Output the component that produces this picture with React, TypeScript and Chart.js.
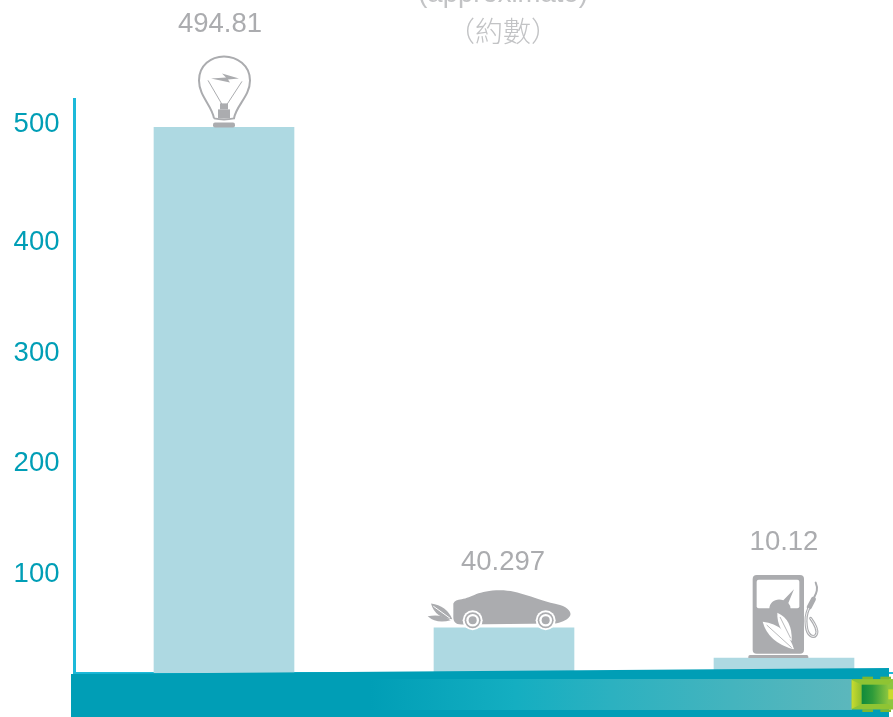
import React, { useEffect, useRef } from "react";
import { Chart, registerables } from "chart.js";

Chart.register(...registerables);

// ---- data ----
const categoryPositions = [1, 2, 3];
const barLabels = ["494.81", "40.297", "10.12"];
// the bars of the reference are not drawn to scale: these are their apparent heights on the axis
const barHeights = [494.81, 50.7, 24];
const yTickLabels = ["100", "200", "300", "400", "500"];
// the reference's printed ticks are unevenly spaced
const yTickValues = [98.2, 196.9, 294.5, 392.7, 497.5];
const titleLines = ["(approximate)", "（約數）"];

const GREY = "#ABACAF";
const TEAL = "#009EB6";
const AXIS = "#1CB9D9";
const BAR = "#AED9E2";
const FONT = '"Liberation Sans", Arial, sans-serif';

const labelOffsets = [
  { dx: -4, dy: -102.5 },
  { dx: -1, dy: -65.5 },
  { dx: 0, dy: -115.5 },
];

function drawBulb(c: CanvasRenderingContext2D) {
  c.strokeStyle = GREY;
  c.fillStyle = GREY;
  c.lineWidth = 2;
  c.beginPath();
  c.moveTo(-10, -9);
  c.bezierCurveTo(-12, -22, -25, -31, -25, -47);
  c.bezierCurveTo(-25, -62, -13, -71, 0, -71);
  c.bezierCurveTo(13, -71, 26, -62, 26, -47);
  c.bezierCurveTo(26, -31, 12, -22, 10, -9);
  c.quadraticCurveTo(0, -7, -10, -9);
  c.stroke();
  c.lineWidth = 1;
  c.beginPath();
  c.moveTo(-16, -47);
  c.lineTo(-2, -23);
  c.moveTo(18, -46);
  c.lineTo(3, -23);
  c.stroke();
  c.beginPath();
  c.moveTo(-13, -49);
  c.lineTo(2, -50);
  c.lineTo(-2, -54);
  c.lineTo(15, -49);
  c.lineTo(4, -48);
  c.lineTo(6, -45);
  c.closePath();
  c.fill();
  c.fillRect(-4, -24, 8, 6);
  c.fillRect(-6, -18, 12, 9);
  c.beginPath();
  c.roundRect(-11, -5, 22, 5, 2);
  c.fill();
}

function drawCar(c: CanvasRenderingContext2D) {
  c.save();
  c.scale(1 / 3, 1 / 3);
  c.translate(-312, -291);
  c.fillStyle = GREY;
  c.beginPath();
  c.moveTo(160, 218);
  c.quadraticCurveTo(165, 206, 185, 205);
  c.bezierCurveTo(215, 200, 235, 178, 300, 178);
  c.bezierCurveTo(360, 178, 400, 205, 480, 222);
  c.bezierCurveTo(505, 230, 516, 245, 510, 255);
  c.bezierCurveTo(500, 270, 480, 275, 465, 278);
  c.lineTo(185, 281);
  c.bezierCurveTo(165, 281, 160, 270, 160, 260);
  c.closePath();
  c.fill();
  for (const wx of [218, 437]) {
    c.fillStyle = "#fff";
    c.beginPath();
    c.arc(wx, 268, 30, 0, Math.PI * 2);
    c.fill();
    c.fillStyle = GREY;
    c.beginPath();
    c.arc(wx, 268, 24, 0, Math.PI * 2);
    c.fill();
    c.fillStyle = "#fff";
    c.beginPath();
    c.arc(wx, 268, 19, 0, Math.PI * 2);
    c.fill();
    c.fillStyle = GREY;
    c.beginPath();
    c.arc(wx, 268, 12, 0, Math.PI * 2);
    c.fill();
  }
  c.fillStyle = GREY;
  c.beginPath();
  c.moveTo(93, 218);
  c.quadraticCurveTo(140, 225, 157, 265);
  c.quadraticCurveTo(105, 262, 93, 218);
  c.closePath();
  c.fill();
  c.beginPath();
  c.moveTo(83, 256);
  c.quadraticCurveTo(125, 248, 152, 268);
  c.quadraticCurveTo(110, 280, 83, 256);
  c.closePath();
  c.fill();
  c.strokeStyle = "#fff";
  c.lineWidth = 3;
  c.beginPath();
  c.moveTo(100, 226);
  c.lineTo(150, 262);
  c.stroke();
  c.restore();
}

function drawPump(c: CanvasRenderingContext2D) {
  c.save();
  c.scale(1 / 3, 1 / 3);
  c.translate(-1152, -381);
  c.fillStyle = GREY;
  c.beginPath();
  c.roundRect(1058, 132, 154, 236, 12);
  c.fill();
  c.beginPath();
  c.roundRect(1045, 372, 180, 9, [5, 5, 0, 0]);
  c.fill();
  c.fillStyle = "#fff";
  c.beginPath();
  c.roundRect(1070, 146, 128, 86, 6);
  c.fill();
  c.fillStyle = GREY;
  c.beginPath();
  c.moveTo(1108, 234);
  c.bezierCurveTo(1108, 212, 1130, 200, 1150, 208);
  c.lineTo(1182, 175);
  c.lineTo(1165, 216);
  c.quadraticCurveTo(1172, 224, 1172, 234);
  c.closePath();
  c.fill();
  c.fillStyle = "#fff";
  c.beginPath();
  c.moveTo(1088, 272);
  c.quadraticCurveTo(1160, 280, 1182, 355);
  c.quadraticCurveTo(1105, 335, 1088, 272);
  c.closePath();
  c.fill();
  c.beginPath();
  c.moveTo(1132, 245);
  c.quadraticCurveTo(1178, 265, 1175, 330);
  c.quadraticCurveTo(1130, 295, 1132, 245);
  c.closePath();
  c.fill();
  c.strokeStyle = GREY;
  c.lineWidth = 2.5;
  c.beginPath();
  c.moveTo(1100, 282);
  c.lineTo(1175, 350);
  c.moveTo(1140, 258);
  c.lineTo(1172, 322);
  c.stroke();
  c.lineCap = "round";
  // nozzle and its thin tail
  c.lineWidth = 6;
  c.beginPath();
  c.moveTo(1247, 155);
  c.bezierCurveTo(1256, 175, 1248, 188, 1242, 200);
  c.stroke();
  c.lineWidth = 15;
  c.beginPath();
  c.moveTo(1240, 205);
  c.lineTo(1228, 228);
  c.stroke();
  const hose = new Path2D(
    "M1226 232 C1218 250 1216 265 1219 285 C1222 315 1240 322 1248 312 C1256 300 1245 280 1232 262"
  );
  c.strokeStyle = GREY;
  c.lineWidth = 9;
  c.stroke(hose);
  c.strokeStyle = "#fff";
  c.lineWidth = 2.5;
  c.stroke(hose);
  c.restore();
}

function drawGreenCar(c: CanvasRenderingContext2D) {
  c.save();
  c.translate(820, 650);
  c.scale(1 / 3, 1 / 3);
  c.fillStyle = "#7DB72F";
  for (const wx of [127, 181]) {
    c.fillRect(wx, 80, 32, 8);
    c.fillRect(wx, 178, 32, 8);
  }
  c.fillStyle = "#8DC63F";
  c.fillRect(95, 88, 130, 90);
  c.fillStyle = "#8FC433";
  c.beginPath();
  c.moveTo(95, 88);
  c.lineTo(220, 88);
  c.lineTo(205, 104);
  c.lineTo(125, 104);
  c.closePath();
  c.fill();
  c.beginPath();
  c.moveTo(95, 178);
  c.lineTo(220, 178);
  c.lineTo(205, 162);
  c.lineTo(125, 162);
  c.closePath();
  c.fill();
  const side = c.createLinearGradient(95, 0, 125, 0);
  side.addColorStop(0, "#C9DB2E");
  side.addColorStop(1, "#8FBF2F");
  c.fillStyle = side;
  c.beginPath();
  c.moveTo(95, 90);
  c.lineTo(125, 104);
  c.lineTo(125, 162);
  c.lineTo(95, 176);
  c.closePath();
  c.fill();
  const g = c.createLinearGradient(125, 0, 205, 0);
  g.addColorStop(0, "#0F8A3C");
  g.addColorStop(0.4, "#2E9B3A");
  g.addColorStop(1, "#8DC63F");
  c.fillStyle = g;
  c.fillRect(125, 104, 80, 58);
  c.fillStyle = "#C9DB2E";
  c.fillRect(205, 118, 20, 30);
  c.restore();
}

const decorPlugin = {
  id: "decor",
  afterDraw(chart: any) {
    const c: CanvasRenderingContext2D = chart.ctx;
    const area = chart.chartArea;
    const bars = chart.getDatasetMeta(0).data;
    c.save();

    // the road band
    const left = area.left - 3.5;
    const right = 889;
    c.fillStyle = TEAL;
    c.beginPath();
    c.moveTo(left, 674);
    c.lineTo(right, 668);
    c.lineTo(right, 717);
    c.lineTo(left, 717);
    c.closePath();
    c.fill();
    const grad = c.createLinearGradient(370, 0, 852, 0);
    grad.addColorStop(0, TEAL);
    grad.addColorStop(0.3, "#14AEC1");
    grad.addColorStop(0.5, "#2CB1C0");
    grad.addColorStop(1, "#5CB7BC");
    c.fillStyle = grad;
    c.fillRect(left, 679, 852 - left, 31);
    drawGreenCar(c);

    // icons sit on their bars
    const icons = [drawBulb, drawCar, drawPump];
    bars.forEach((b: any, i: number) => {
      c.save();
      c.translate(b.x, b.y);
      icons[i](c);
      c.restore();
    });

    // value labels
    c.textAlign = "center";
    c.textBaseline = "middle";
    c.fillStyle = GREY;
    c.font = `27.5px ${FONT}`;
    bars.forEach((b: any, i: number) => {
      c.fillText(barLabels[i], b.x + labelOffsets[i].dx, b.y + labelOffsets[i].dy);
    });

    // title, cut off by the top of the picture
    c.fillStyle = "#C2C3C5";
    c.font = `27.5px ${FONT}`;
    c.fillText(titleLines[0], 503, -6);
    c.font = `300 28px "Noto Sans CJK TC", ${FONT}`;
    c.fillText(titleLines[1], 503, 31);
    c.restore();
  },
};

export default function App() {
  const ref = useRef<HTMLCanvasElement>(null);
  useEffect(() => {
    if (!ref.current) return;
    const chart = new Chart(ref.current, {
      type: "bar",
      data: {
        datasets: [
          {
            data: categoryPositions.map((x, i) => ({ x, y: barHeights[i] })),
            backgroundColor: BAR,
            borderWidth: 0,
            barThickness: 140,
          },
        ],
      },
      options: {
        animation: false,
        responsive: false,
        devicePixelRatio: 1,
        layout: { padding: { left: 0, right: 0, top: 99, bottom: 44 } },
        plugins: { legend: { display: false }, title: { display: false }, tooltip: { enabled: false } },
        scales: {
          x: {
            type: "linear",
            offset: false,
            min: 1 - 149.5 / 280,
            max: 3 + 109 / 280,
            grid: { display: false, drawTicks: false, offset: false },
            ticks: { display: false },
            border: { display: true, color: AXIS, width: 2 },
          },
          y: {
            min: 10.67,
            max: 520,
            afterBuildTicks: (s: any) => {
              s.ticks = yTickValues.map((value) => ({ value }));
            },
            afterFit: (s: any) => {
              s.width = 74.5;
            },
            grid: { display: false, drawTicks: false },
            border: { display: true, color: AXIS, width: 3 },
            ticks: {
              autoSkip: false,
              maxRotation: 0,
              padding: 15,
              color: TEAL,
              font: { family: FONT, size: 27.5 },
              callback: (_v: any, i: number) => yTickLabels[i],
            },
          },
        },
      } as any,
      plugins: [decorPlugin],
    });
    return () => chart.destroy();
  }, []);
  return (
    <div style={{ position: "absolute", left: 0, top: 0, width: 893, height: 717, overflow: "hidden", background: "#fff" }}>
      <canvas ref={ref} width={893} height={717} style={{ display: "block" }} />
    </div>
  );
}
